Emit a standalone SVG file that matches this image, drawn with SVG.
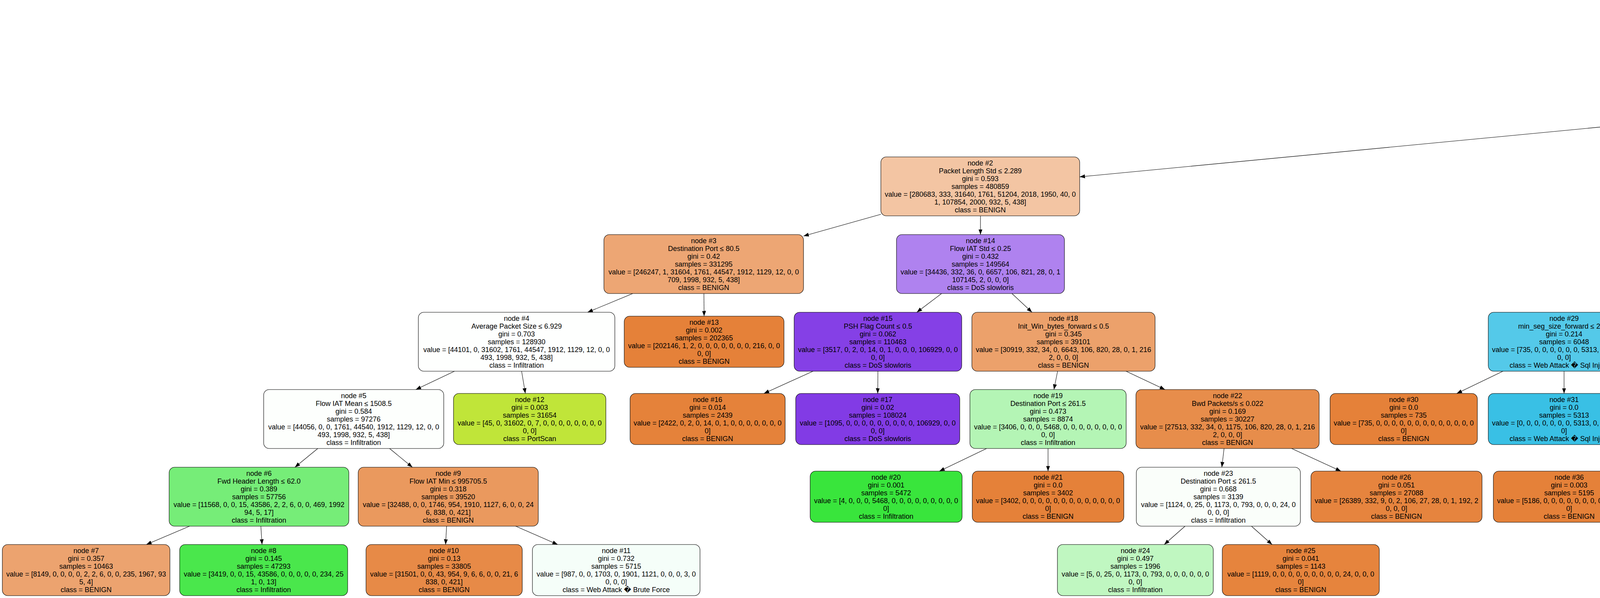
<svg xmlns="http://www.w3.org/2000/svg" width="6857" height="1532" viewBox="0 0 6857 1532">
<defs>
<style>
rect.n{stroke:#000;stroke-width:1.1}
text{font-family:'Liberation Sans','DejaVu Sans',Arial,sans-serif;font-size:18px;text-anchor:middle;fill:#000}
#edges line{stroke:#000;stroke-width:1.1;marker-end:url(#ah)}
</style>
<marker id="ah" markerUnits="userSpaceOnUse" markerWidth="15" markerHeight="11" refX="13.5" refY="5" orient="auto"><path d="M0,0 L13.5,5 L0,10 z" fill="#000"/></marker>
</defs>
<rect width="6857" height="1532" fill="#fff"/>
<g id="edges">
<line x1="5002.5" y1="156" x2="4838.8" y2="204"/>
<line x1="5323.9" y1="156" x2="5364.5" y2="204"/>
<line x1="4310" y1="305.1" x2="2764" y2="453.1"/>
<line x1="4583" y1="354" x2="4583" y2="402"/>
<line x1="5428" y1="354" x2="5428" y2="412"/>
<line x1="5657" y1="337.4" x2="5986" y2="421.4"/>
<line x1="2255" y1="549" x2="2057" y2="604.7"/>
<line x1="2510" y1="553" x2="2510" y2="601"/>
<line x1="1619.8" y1="752" x2="1504.2" y2="800"/>
<line x1="1802" y1="752" x2="1802.5" y2="810"/>
<line x1="2410.4" y1="752" x2="2347.1" y2="800"/>
<line x1="2590.6" y1="752" x2="2641.9" y2="800"/>
<line x1="4518.9" y1="553" x2="4478.1" y2="601"/>
<line x1="4699.3" y1="553" x2="4773.2" y2="601"/>
<line x1="6206" y1="553" x2="6206" y2="601"/>
<line x1="6374.8" y1="553" x2="6504.5" y2="611"/>
<line x1="1163.5" y1="951" x2="1064.5" y2="998"/>
<line x1="1335.3" y1="951" x2="1344.9" y2="1008"/>
<line x1="2081.3" y1="951" x2="1955.7" y2="1008"/>
<line x1="2247.5" y1="951" x2="2247" y2="1008"/>
<line x1="2707.4" y1="951" x2="2698.1" y2="998"/>
<line x1="2882.7" y1="951" x2="2982.3" y2="998"/>
<line x1="4258.4" y1="752" x2="4159.6" y2="800"/>
<line x1="4415.7" y1="752" x2="4417" y2="810"/>
<line x1="4888.5" y1="752" x2="4888" y2="800"/>
<line x1="5068.6" y1="752" x2="5182.4" y2="800"/>
<line x1="6206" y1="752" x2="6205.5" y2="800"/>
<line x1="6366.9" y1="752" x2="6490.5" y2="810"/>
<line x1="813.5" y1="1149" x2="755" y2="1197"/>
<line x1="997.3" y1="1149" x2="1055.7" y2="1197"/>
<line x1="2525.7" y1="1149" x2="2404.9" y2="1207"/>
<line x1="2683" y1="1149" x2="2683" y2="1207"/>
<line x1="3133.6" y1="1149" x2="3127.9" y2="1197"/>
<line x1="3306.6" y1="1149" x2="3432.7" y2="1207"/>
<line x1="3847.5" y1="951" x2="3729.3" y2="1008"/>
<line x1="4004" y1="951" x2="4004" y2="1008"/>
<line x1="4710.5" y1="951" x2="4600.5" y2="998"/>
<line x1="4890" y1="951" x2="4892" y2="998"/>
<line x1="5361.5" y1="951" x2="5360.5" y2="1008"/>
<line x1="5521.1" y1="951" x2="5641.6" y2="1008"/>
<line x1="6205.5" y1="951" x2="6205" y2="1008"/>
<line x1="6367.7" y1="951" x2="6490.2" y2="1008"/>
<line x1="485.3" y1="1348" x2="374.7" y2="1395"/>
<line x1="667.8" y1="1348" x2="670.8" y2="1395"/>
<line x1="1143.3" y1="1348" x2="1140.7" y2="1395"/>
<line x1="1320.2" y1="1348" x2="1427.7" y2="1395"/>
<line x1="3033.7" y1="1348" x2="2980.5" y2="1395"/>
<line x1="3203.7" y1="1348" x2="3256.5" y2="1395"/>
<line x1="4269.6" y1="1149" x2="4150.9" y2="1207"/>
<line x1="4427.4" y1="1149" x2="4430" y2="1207"/>
<line x1="4894.6" y1="1149" x2="4894.3" y2="1207"/>
<line x1="5069" y1="1149" x2="5202.6" y2="1207"/>
<text x="4857" y="179">True</text>
<text x="5366" y="176">False</text>
</g>
<g id="n0"><rect class="n" x="4990" y="5" width="540" height="151" rx="14" fill="#eb9c63"/><text y="26.5"><tspan x="5260">node #0</tspan><tspan x="5260" dy="20">Bwd Packet Length Std ≤ 1495.688</tspan><tspan x="5260" dy="20">gini = 0.343</tspan><tspan x="5260" dy="20">samples = 1922955</tspan><tspan x="5260" dy="20">value = [1544491, 1348, 87329, 6936, 156385, 3692, 3919, 5353</tspan><tspan x="5260" dy="20">9, 24, 107938, 4027, 1040, 13, 451]</tspan><tspan x="5260" dy="20">class = BENIGN</tspan></text></g>
<g id="n1"><rect class="n" x="4310" y="204" width="546" height="150" rx="14" fill="#e89153"/><text y="225"><tspan x="4583">node #1</tspan><tspan x="4583" dy="20">Average Packet Size ≤ 7.694</tspan><tspan x="4583" dy="20">gini = 0.224</tspan><tspan x="4583" dy="20">samples = 1756521</tspan><tspan x="4583" dy="20">value = [1542584, 1348, 32166, 2381, 51652, 3689, 3918, 5353, 0</tspan><tspan x="4583" dy="20">24, 107879, 4027, 1038, 13, 449]</tspan><tspan x="4583" dy="20">class = BENIGN</tspan></text></g>
<g id="n44"><rect class="n" x="5199" y="204" width="458" height="150" rx="14" fill="#a7f3a8"/><text y="225"><tspan x="5428">node #44</tspan><tspan x="5428" dy="20">Fwd Packet Length Max ≤ 41.0</tspan><tspan x="5428" dy="20">gini = 0.493</tspan><tspan x="5428" dy="20">samples = 166434</tspan><tspan x="5428" dy="20">value = [1907, 0, 55163, 4555, 104733, 3, 1, 0, 9, 0, 59</tspan><tspan x="5428" dy="20">0, 2, 0, 2]</tspan><tspan x="5428" dy="20">class = Infiltration</tspan></text></g>
<g id="n2"><rect class="n" x="2255" y="402" width="509" height="151" rx="14" fill="#f3c5a3"/><text y="423.5"><tspan x="2509.5">node #2</tspan><tspan x="2509.5" dy="20">Packet Length Std ≤ 2.289</tspan><tspan x="2509.5" dy="20">gini = 0.593</tspan><tspan x="2509.5" dy="20">samples = 480859</tspan><tspan x="2509.5" dy="20">value = [280683, 333, 31640, 1761, 51204, 2018, 1950, 40, 0</tspan><tspan x="2509.5" dy="20">1, 107854, 2000, 932, 5, 438]</tspan><tspan x="2509.5" dy="20">class = BENIGN</tspan></text></g>
<g id="n27"><rect class="n" x="4333" y="402" width="500" height="151" rx="14" fill="#e5823b"/><text y="423.5"><tspan x="4583">node #27</tspan><tspan x="4583" dy="20">Destination Port ≤ 21.5</tspan><tspan x="4583" dy="20">gini = 0.021</tspan><tspan x="4583" dy="20">samples = 1275662</tspan><tspan x="4583" dy="20">value = [1261901, 1015, 526, 620, 448, 1671, 1968, 5313, 0</tspan><tspan x="4583" dy="20">23, 25, 2027, 106, 8, 11]</tspan><tspan x="4583" dy="20">class = BENIGN</tspan></text></g>
<g id="n45"><rect class="n" x="5233" y="412" width="389" height="131" rx="14" fill="#c0e539"/><text y="433.5"><tspan x="5427.5">node #45</tspan><tspan x="5427.5" dy="20">gini = 0.001</tspan><tspan x="5427.5" dy="20">samples = 55201</tspan><tspan x="5427.5" dy="20">value = [0, 0, 55163, 0, 0, 0, 0, 0, 0, 0, 38, 0, 0</tspan><tspan x="5427.5" dy="20">0, 0]</tspan><tspan x="5427.5" dy="20">class = PortScan</tspan></text></g>
<g id="n46"><rect class="n" x="5986" y="402" width="440" height="151" rx="14" fill="#45e748"/><text y="423.5"><tspan x="6206">node #46</tspan><tspan x="6206" dy="20">Total Length of Bwd Packets ≤ 11605.0</tspan><tspan x="6206" dy="20">gini = 0.111</tspan><tspan x="6206" dy="20">samples = 111233</tspan><tspan x="6206" dy="20">value = [1907, 0, 0, 4555, 104733, 3, 1, 0, 9, 0, 21, 0</tspan><tspan x="6206" dy="20">2, 0, 2]</tspan><tspan x="6206" dy="20">class = Infiltration</tspan></text></g>
<g id="n3"><rect class="n" x="1546" y="601" width="511" height="151" rx="14" fill="#eda674"/><text y="622.5"><tspan x="1801.5">node #3</tspan><tspan x="1801.5" dy="20">Destination Port ≤ 80.5</tspan><tspan x="1801.5" dy="20">gini = 0.42</tspan><tspan x="1801.5" dy="20">samples = 331295</tspan><tspan x="1801.5" dy="20">value = [246247, 1, 31604, 1761, 44547, 1912, 1129, 12, 0, 0</tspan><tspan x="1801.5" dy="20">709, 1998, 932, 5, 438]</tspan><tspan x="1801.5" dy="20">class = BENIGN</tspan></text></g>
<g id="n14"><rect class="n" x="2295" y="601" width="430" height="151" rx="14" fill="#af82ef"/><text y="622.5"><tspan x="2510">node #14</tspan><tspan x="2510" dy="20">Flow IAT Std ≤ 0.25</tspan><tspan x="2510" dy="20">gini = 0.432</tspan><tspan x="2510" dy="20">samples = 149564</tspan><tspan x="2510" dy="20">value = [34436, 332, 36, 0, 6657, 106, 821, 28, 0, 1</tspan><tspan x="2510" dy="20">107145, 2, 0, 0, 0]</tspan><tspan x="2510" dy="20">class = DoS slowloris</tspan></text></g>
<g id="n28"><rect class="n" x="4214" y="601" width="400" height="151" rx="14" fill="#94ddf1"/><text y="622.5"><tspan x="4414">node #28</tspan><tspan x="4414" dy="20">Bwd Packet Length Mean ≤ 13.964</tspan><tspan x="4414" dy="20">gini = 0.431</tspan><tspan x="4414" dy="20">samples = 7742</tspan><tspan x="4414" dy="20">value = [2429, 0, 0, 0, 0, 0, 0, 5313, 0, 0, 0, 0, 0</tspan><tspan x="4414" dy="20">0, 0]</tspan><tspan x="4414" dy="20">class = Web Attack � Sql Injection</tspan></text></g>
<g id="n33"><rect class="n" x="4640" y="601" width="499" height="151" rx="14" fill="#e5823a"/><text y="622.5"><tspan x="4889.5">node #33</tspan><tspan x="4889.5" dy="20">Active Std ≤ 4527683.5</tspan><tspan x="4889.5" dy="20">gini = 0.013</tspan><tspan x="4889.5" dy="20">samples = 1267920</tspan><tspan x="4889.5" dy="20">value = [1259472, 1015, 526, 620, 448, 1671, 1968, 0, 0, 23</tspan><tspan x="4889.5" dy="20">25, 2027, 106, 8, 11]</tspan><tspan x="4889.5" dy="20">class = BENIGN</tspan></text></g>
<g id="n47"><rect class="n" x="5986" y="601" width="440" height="151" rx="14" fill="#3ee641"/><text y="622.5"><tspan x="6206">node #47</tspan><tspan x="6206" dy="20">Subflow Bwd Bytes ≤ 11580.0</tspan><tspan x="6206" dy="20">gini = 0.049</tspan><tspan x="6206" dy="20">samples = 107392</tspan><tspan x="6206" dy="20">value = [1518, 0, 0, 1135, 104713, 2, 1, 0, 0, 0, 21, 0</tspan><tspan x="6206" dy="20">1, 0, 1]</tspan><tspan x="6206" dy="20">class = Infiltration</tspan></text></g>
<g id="n52"><rect class="n" x="6451" y="611" width="400" height="131" rx="14" fill="#8be851"/><text y="632.5"><tspan x="6651">node #52</tspan><tspan x="6651" dy="20">gini = 0.197</tspan><tspan x="6651" dy="20">samples = 3841</tspan><tspan x="6651" dy="20">value = [389, 0, 0, 3420, 20, 1, 0, 0, 9, 0, 0, 0, 1</tspan><tspan x="6651" dy="20">0, 1]</tspan><tspan x="6651" dy="20">class = Bot</tspan></text></g>
<g id="n4"><rect class="n" x="1071" y="800" width="503" height="151" rx="14" fill="#fefffe"/><text y="821.5"><tspan x="1322.5">node #4</tspan><tspan x="1322.5" dy="20">Average Packet Size ≤ 6.929</tspan><tspan x="1322.5" dy="20">gini = 0.703</tspan><tspan x="1322.5" dy="20">samples = 128930</tspan><tspan x="1322.5" dy="20">value = [44101, 0, 31602, 1761, 44547, 1912, 1129, 12, 0, 0</tspan><tspan x="1322.5" dy="20">493, 1998, 932, 5, 438]</tspan><tspan x="1322.5" dy="20">class = Infiltration</tspan></text></g>
<g id="n13"><rect class="n" x="1598" y="810" width="409" height="131" rx="14" fill="#e58139"/><text y="831.5"><tspan x="1802.5">node #13</tspan><tspan x="1802.5" dy="20">gini = 0.002</tspan><tspan x="1802.5" dy="20">samples = 202365</tspan><tspan x="1802.5" dy="20">value = [202146, 1, 2, 0, 0, 0, 0, 0, 0, 0, 216, 0, 0</tspan><tspan x="1802.5" dy="20">0, 0]</tspan><tspan x="1802.5" dy="20">class = BENIGN</tspan></text></g>
<g id="n15"><rect class="n" x="2033" y="800" width="429" height="151" rx="14" fill="#8540e6"/><text y="821.5"><tspan x="2247.5">node #15</tspan><tspan x="2247.5" dy="20">PSH Flag Count ≤ 0.5</tspan><tspan x="2247.5" dy="20">gini = 0.062</tspan><tspan x="2247.5" dy="20">samples = 110463</tspan><tspan x="2247.5" dy="20">value = [3517, 0, 2, 0, 14, 0, 1, 0, 0, 0, 106929, 0, 0</tspan><tspan x="2247.5" dy="20">0, 0]</tspan><tspan x="2247.5" dy="20">class = DoS slowloris</tspan></text></g>
<g id="n18"><rect class="n" x="2488" y="800" width="469" height="151" rx="14" fill="#eca16b"/><text y="821.5"><tspan x="2722.5">node #18</tspan><tspan x="2722.5" dy="20">Init_Win_bytes_forward ≤ 0.5</tspan><tspan x="2722.5" dy="20">gini = 0.345</tspan><tspan x="2722.5" dy="20">samples = 39101</tspan><tspan x="2722.5" dy="20">value = [30919, 332, 34, 0, 6643, 106, 820, 28, 0, 1, 216</tspan><tspan x="2722.5" dy="20">2, 0, 0, 0]</tspan><tspan x="2722.5" dy="20">class = BENIGN</tspan></text></g>
<g id="n29"><rect class="n" x="3810" y="800" width="388" height="151" rx="14" fill="#54c9e9"/><text y="821.5"><tspan x="4004">node #29</tspan><tspan x="4004" dy="20">min_seg_size_forward ≤ 26.0</tspan><tspan x="4004" dy="20">gini = 0.214</tspan><tspan x="4004" dy="20">samples = 6048</tspan><tspan x="4004" dy="20">value = [735, 0, 0, 0, 0, 0, 0, 5313, 0, 0, 0, 0, 0</tspan><tspan x="4004" dy="20">0, 0]</tspan><tspan x="4004" dy="20">class = Web Attack � Sql Injection</tspan></text></g>
<g id="n32"><rect class="n" x="4224" y="810" width="389" height="131" rx="14" fill="#e58139"/><text y="831.5"><tspan x="4418.5">node #32</tspan><tspan x="4418.5" dy="20">gini = 0.0</tspan><tspan x="4418.5" dy="20">samples = 1694</tspan><tspan x="4418.5" dy="20">value = [1694, 0, 0, 0, 0, 0, 0, 0, 0, 0, 0, 0, 0, 0</tspan><tspan x="4418.5" dy="20">0]</tspan><tspan x="4418.5" dy="20">class = BENIGN</tspan></text></g>
<g id="n34"><rect class="n" x="4642" y="800" width="490" height="151" rx="14" fill="#e5823a"/><text y="821.5"><tspan x="4887">node #34</tspan><tspan x="4887" dy="20">Destination Port ≤ 32.0</tspan><tspan x="4887" dy="20">gini = 0.011</tspan><tspan x="4887" dy="20">samples = 1265493</tspan><tspan x="4887" dy="20">value = [1258297, 1015, 526, 612, 448, 1587, 811, 0, 0, 20</tspan><tspan x="4887" dy="20">25, 2027, 106, 8, 11]</tspan><tspan x="4887" dy="20">class = BENIGN</tspan></text></g>
<g id="n41"><rect class="n" x="5157" y="800" width="409" height="151" rx="14" fill="#fffdfc"/><text y="821.5"><tspan x="5361.5">node #41</tspan><tspan x="5361.5" dy="20">Bwd IAT Min ≤ 5332221.0</tspan><tspan x="5361.5" dy="20">gini = 0.537</tspan><tspan x="5361.5" dy="20">samples = 2427</tspan><tspan x="5361.5" dy="20">value = [1175, 0, 0, 8, 0, 84, 1157, 0, 0, 3, 0, 0, 0</tspan><tspan x="5361.5" dy="20">0, 0]</tspan><tspan x="5361.5" dy="20">class = BENIGN</tspan></text></g>
<g id="n48"><rect class="n" x="6002" y="800" width="407" height="151" rx="14" fill="#f9e0ce"/><text y="821.5"><tspan x="6205.5">node #48</tspan><tspan x="6205.5" dy="20">Bwd IAT Mean ≤ 1654206.125</tspan><tspan x="6205.5" dy="20">gini = 0.499</tspan><tspan x="6205.5" dy="20">samples = 2679</tspan><tspan x="6205.5" dy="20">value = [1518, 0, 0, 1135, 0, 2, 1, 0, 0, 0, 21, 0, 1</tspan><tspan x="6205.5" dy="20">0, 1]</tspan><tspan x="6205.5" dy="20">class = BENIGN</tspan></text></g>
<g id="n51"><rect class="n" x="6437" y="810" width="386" height="131" rx="14" fill="#39e53c"/><text y="831.5"><tspan x="6630">node #51</tspan><tspan x="6630" dy="20">gini = 0.0</tspan><tspan x="6630" dy="20">samples = 104713</tspan><tspan x="6630" dy="20">value = [0, 0, 0, 0, 104713, 0, 0, 0, 0, 0, 0, 0, 0</tspan><tspan x="6630" dy="20">0, 0]</tspan><tspan x="6630" dy="20">class = Infiltration</tspan></text></g>
<g id="n5"><rect class="n" x="675" y="998" width="461" height="151" rx="14" fill="#fdfffd"/><text y="1019.5"><tspan x="905.5">node #5</tspan><tspan x="905.5" dy="20">Flow IAT Mean ≤ 1508.5</tspan><tspan x="905.5" dy="20">gini = 0.584</tspan><tspan x="905.5" dy="20">samples = 97276</tspan><tspan x="905.5" dy="20">value = [44056, 0, 0, 1761, 44540, 1912, 1129, 12, 0, 0</tspan><tspan x="905.5" dy="20">493, 1998, 932, 5, 438]</tspan><tspan x="905.5" dy="20">class = Infiltration</tspan></text></g>
<g id="n12"><rect class="n" x="1161" y="1008" width="390" height="131" rx="14" fill="#c0e539"/><text y="1029.5"><tspan x="1356">node #12</tspan><tspan x="1356" dy="20">gini = 0.003</tspan><tspan x="1356" dy="20">samples = 31654</tspan><tspan x="1356" dy="20">value = [45, 0, 31602, 0, 7, 0, 0, 0, 0, 0, 0, 0, 0</tspan><tspan x="1356" dy="20">0, 0]</tspan><tspan x="1356" dy="20">class = PortScan</tspan></text></g>
<g id="n16"><rect class="n" x="1613" y="1008" width="397" height="131" rx="14" fill="#e5823a"/><text y="1029.5"><tspan x="1811.5">node #16</tspan><tspan x="1811.5" dy="20">gini = 0.014</tspan><tspan x="1811.5" dy="20">samples = 2439</tspan><tspan x="1811.5" dy="20">value = [2422, 0, 2, 0, 14, 0, 1, 0, 0, 0, 0, 0, 0, 0</tspan><tspan x="1811.5" dy="20">0]</tspan><tspan x="1811.5" dy="20">class = BENIGN</tspan></text></g>
<g id="n17"><rect class="n" x="2037" y="1008" width="420" height="131" rx="14" fill="#823be5"/><text y="1029.5"><tspan x="2247">node #17</tspan><tspan x="2247" dy="20">gini = 0.02</tspan><tspan x="2247" dy="20">samples = 108024</tspan><tspan x="2247" dy="20">value = [1095, 0, 0, 0, 0, 0, 0, 0, 0, 0, 106929, 0, 0</tspan><tspan x="2247" dy="20">0, 0]</tspan><tspan x="2247" dy="20">class = DoS slowloris</tspan></text></g>
<g id="n19"><rect class="n" x="2483" y="998" width="400" height="151" rx="14" fill="#b4f5b5"/><text y="1019.5"><tspan x="2683">node #19</tspan><tspan x="2683" dy="20">Destination Port ≤ 261.5</tspan><tspan x="2683" dy="20">gini = 0.473</tspan><tspan x="2683" dy="20">samples = 8874</tspan><tspan x="2683" dy="20">value = [3406, 0, 0, 0, 5468, 0, 0, 0, 0, 0, 0, 0, 0</tspan><tspan x="2683" dy="20">0, 0]</tspan><tspan x="2683" dy="20">class = Infiltration</tspan></text></g>
<g id="n22"><rect class="n" x="2908" y="998" width="469" height="151" rx="14" fill="#e78d4b"/><text y="1019.5"><tspan x="3142.5">node #22</tspan><tspan x="3142.5" dy="20">Bwd Packets/s ≤ 0.022</tspan><tspan x="3142.5" dy="20">gini = 0.169</tspan><tspan x="3142.5" dy="20">samples = 30227</tspan><tspan x="3142.5" dy="20">value = [27513, 332, 34, 0, 1175, 106, 820, 28, 0, 1, 216</tspan><tspan x="3142.5" dy="20">2, 0, 0, 0]</tspan><tspan x="3142.5" dy="20">class = BENIGN</tspan></text></g>
<g id="n30"><rect class="n" x="3405" y="1008" width="377" height="131" rx="14" fill="#e58139"/><text y="1029.5"><tspan x="3593.5">node #30</tspan><tspan x="3593.5" dy="20">gini = 0.0</tspan><tspan x="3593.5" dy="20">samples = 735</tspan><tspan x="3593.5" dy="20">value = [735, 0, 0, 0, 0, 0, 0, 0, 0, 0, 0, 0, 0, 0</tspan><tspan x="3593.5" dy="20">0]</tspan><tspan x="3593.5" dy="20">class = BENIGN</tspan></text></g>
<g id="n31"><rect class="n" x="3810" y="1008" width="388" height="131" rx="14" fill="#39c0e5"/><text y="1029.5"><tspan x="4004">node #31</tspan><tspan x="4004" dy="20">gini = 0.0</tspan><tspan x="4004" dy="20">samples = 5313</tspan><tspan x="4004" dy="20">value = [0, 0, 0, 0, 0, 0, 0, 5313, 0, 0, 0, 0, 0, 0</tspan><tspan x="4004" dy="20">0]</tspan><tspan x="4004" dy="20">class = Web Attack � Sql Injection</tspan></text></g>
<g id="n35"><rect class="n" x="4224" y="998" width="400" height="151" rx="14" fill="#efb286"/><text y="1019.5"><tspan x="4424">node #35</tspan><tspan x="4424" dy="20">Fwd Packet Length Max ≤ 552.0</tspan><tspan x="4424" dy="20">gini = 0.404</tspan><tspan x="4424" dy="20">samples = 7213</tspan><tspan x="4424" dy="20">value = [5186, 0, 0, 0, 0, 0, 0, 0, 0, 0, 0, 2027, 0</tspan><tspan x="4424" dy="20">0, 0]</tspan><tspan x="4424" dy="20">class = BENIGN</tspan></text></g>
<g id="n38"><rect class="n" x="4651" y="998" width="488" height="151" rx="14" fill="#e5823a"/><text y="1019.5"><tspan x="4895">node #38</tspan><tspan x="4895" dy="20">Bwd IAT Std ≤ 71497312.0</tspan><tspan x="4895" dy="20">gini = 0.008</tspan><tspan x="4895" dy="20">samples = 1258280</tspan><tspan x="4895" dy="20">value = [1253111, 1015, 526, 612, 448, 1587, 811, 0, 0, 20</tspan><tspan x="4895" dy="20">25, 0, 106, 8, 11]</tspan><tspan x="4895" dy="20">class = BENIGN</tspan></text></g>
<g id="n42"><rect class="n" x="5166" y="1008" width="389" height="131" rx="14" fill="#e5823a"/><text y="1029.5"><tspan x="5360.5">node #42</tspan><tspan x="5360.5" dy="20">gini = 0.013</tspan><tspan x="5360.5" dy="20">samples = 1183</tspan><tspan x="5360.5" dy="20">value = [1175, 0, 0, 5, 0, 0, 0, 0, 0, 3, 0, 0, 0, 0</tspan><tspan x="5360.5" dy="20">0]</tspan><tspan x="5360.5" dy="20">class = BENIGN</tspan></text></g>
<g id="n43"><rect class="n" x="5580" y="1008" width="400" height="131" rx="14" fill="#48e7c9"/><text y="1029.5"><tspan x="5780">node #43</tspan><tspan x="5780" dy="20">gini = 0.13</tspan><tspan x="5780" dy="20">samples = 1244</tspan><tspan x="5780" dy="20">value = [0, 0, 0, 3, 0, 84, 1157, 0, 0, 0, 0, 0, 0, 0</tspan><tspan x="5780" dy="20">0]</tspan><tspan x="5780" dy="20">class = Web Attack � XSS</tspan></text></g>
<g id="n49"><rect class="n" x="6005" y="1008" width="400" height="131" rx="14" fill="#e5833c"/><text y="1029.5"><tspan x="6205">node #49</tspan><tspan x="6205" dy="20">gini = 0.031</tspan><tspan x="6205" dy="20">samples = 1504</tspan><tspan x="6205" dy="20">value = [1480, 0, 0, 0, 0, 0, 1, 0, 0, 0, 21, 0, 1, 0</tspan><tspan x="6205" dy="20">1]</tspan><tspan x="6205" dy="20">class = BENIGN</tspan></text></g>
<g id="n50"><rect class="n" x="6431" y="1008" width="400" height="131" rx="14" fill="#80e640"/><text y="1029.5"><tspan x="6631">node #50</tspan><tspan x="6631" dy="20">gini = 0.066</tspan><tspan x="6631" dy="20">samples = 1175</tspan><tspan x="6631" dy="20">value = [38, 0, 0, 1135, 0, 2, 0, 0, 0, 0, 0, 0, 0, 0</tspan><tspan x="6631" dy="20">0]</tspan><tspan x="6631" dy="20">class = Bot</tspan></text></g>
<g id="n6"><rect class="n" x="433" y="1197" width="460" height="151" rx="14" fill="#76ed78"/><text y="1218.5"><tspan x="663">node #6</tspan><tspan x="663" dy="20">Fwd Header Length ≤ 62.0</tspan><tspan x="663" dy="20">gini = 0.389</tspan><tspan x="663" dy="20">samples = 57756</tspan><tspan x="663" dy="20">value = [11568, 0, 0, 15, 43586, 2, 2, 6, 0, 0, 469, 1992</tspan><tspan x="663" dy="20">94, 5, 17]</tspan><tspan x="663" dy="20">class = Infiltration</tspan></text></g>
<g id="n9"><rect class="n" x="917" y="1197" width="461" height="151" rx="14" fill="#ea995e"/><text y="1218.5"><tspan x="1147.5">node #9</tspan><tspan x="1147.5" dy="20">Flow IAT Min ≤ 995705.5</tspan><tspan x="1147.5" dy="20">gini = 0.318</tspan><tspan x="1147.5" dy="20">samples = 39520</tspan><tspan x="1147.5" dy="20">value = [32488, 0, 0, 1746, 954, 1910, 1127, 6, 0, 0, 24</tspan><tspan x="1147.5" dy="20">6, 838, 0, 421]</tspan><tspan x="1147.5" dy="20">class = BENIGN</tspan></text></g>
<g id="n20"><rect class="n" x="2074" y="1207" width="389" height="131" rx="14" fill="#39e53c"/><text y="1228.5"><tspan x="2268.5">node #20</tspan><tspan x="2268.5" dy="20">gini = 0.001</tspan><tspan x="2268.5" dy="20">samples = 5472</tspan><tspan x="2268.5" dy="20">value = [4, 0, 0, 0, 5468, 0, 0, 0, 0, 0, 0, 0, 0, 0</tspan><tspan x="2268.5" dy="20">0]</tspan><tspan x="2268.5" dy="20">class = Infiltration</tspan></text></g>
<g id="n21"><rect class="n" x="2489" y="1207" width="388" height="131" rx="14" fill="#e58139"/><text y="1228.5"><tspan x="2683">node #21</tspan><tspan x="2683" dy="20">gini = 0.0</tspan><tspan x="2683" dy="20">samples = 3402</tspan><tspan x="2683" dy="20">value = [3402, 0, 0, 0, 0, 0, 0, 0, 0, 0, 0, 0, 0, 0</tspan><tspan x="2683" dy="20">0]</tspan><tspan x="2683" dy="20">class = BENIGN</tspan></text></g>
<g id="n23"><rect class="n" x="2909" y="1197" width="420" height="151" rx="14" fill="#fafefa"/><text y="1218.5"><tspan x="3119">node #23</tspan><tspan x="3119" dy="20">Destination Port ≤ 261.5</tspan><tspan x="3119" dy="20">gini = 0.668</tspan><tspan x="3119" dy="20">samples = 3139</tspan><tspan x="3119" dy="20">value = [1124, 0, 25, 0, 1173, 0, 793, 0, 0, 0, 24, 0</tspan><tspan x="3119" dy="20">0, 0, 0]</tspan><tspan x="3119" dy="20">class = Infiltration</tspan></text></g>
<g id="n26"><rect class="n" x="3356" y="1207" width="438" height="131" rx="14" fill="#e6843e"/><text y="1228.5"><tspan x="3575">node #26</tspan><tspan x="3575" dy="20">gini = 0.051</tspan><tspan x="3575" dy="20">samples = 27088</tspan><tspan x="3575" dy="20">value = [26389, 332, 9, 0, 2, 106, 27, 28, 0, 1, 192, 2</tspan><tspan x="3575" dy="20">0, 0, 0]</tspan><tspan x="3575" dy="20">class = BENIGN</tspan></text></g>
<g id="n36"><rect class="n" x="3823" y="1207" width="388" height="131" rx="14" fill="#e58139"/><text y="1228.5"><tspan x="4017">node #36</tspan><tspan x="4017" dy="20">gini = 0.003</tspan><tspan x="4017" dy="20">samples = 5195</tspan><tspan x="4017" dy="20">value = [5186, 0, 0, 0, 0, 0, 0, 0, 0, 0, 0, 9, 0, 0</tspan><tspan x="4017" dy="20">0]</tspan><tspan x="4017" dy="20">class = BENIGN</tspan></text></g>
<g id="n37"><rect class="n" x="4239" y="1207" width="388" height="131" rx="14" fill="#c539e5"/><text y="1228.5"><tspan x="4433">node #37</tspan><tspan x="4433" dy="20">gini = 0.0</tspan><tspan x="4433" dy="20">samples = 2018</tspan><tspan x="4433" dy="20">value = [0, 0, 0, 0, 0, 0, 0, 0, 0, 0, 0, 2018, 0, 0</tspan><tspan x="4433" dy="20">0]</tspan><tspan x="4433" dy="20">class = DoS Slowhttptest</tspan></text></g>
<g id="n39"><rect class="n" x="4654" y="1207" width="480" height="131" rx="14" fill="#e5813a"/><text y="1228.5"><tspan x="4894">node #39</tspan><tspan x="4894" dy="20">gini = 0.007</tspan><tspan x="4894" dy="20">samples = 1257479</tspan><tspan x="4894" dy="20">value = [1252980, 1015, 526, 612, 448, 930, 798, 0, 0, 20</tspan><tspan x="4894" dy="20">25, 0, 106, 8, 11]</tspan><tspan x="4894" dy="20">class = BENIGN</tspan></text></g>
<g id="n40"><rect class="n" x="5159" y="1207" width="389" height="131" rx="14" fill="#64eb9c"/><text y="1228.5"><tspan x="5353.5">node #40</tspan><tspan x="5353.5" dy="20">gini = 0.3</tspan><tspan x="5353.5" dy="20">samples = 801</tspan><tspan x="5353.5" dy="20">value = [131, 0, 0, 0, 0, 657, 13, 0, 0, 0, 0, 0, 0</tspan><tspan x="5353.5" dy="20">0, 0]</tspan><tspan x="5353.5" dy="20">class = Web Attack � Brute Force</tspan></text></g>
<g id="n7"><rect class="n" x="6" y="1395" width="429" height="131" rx="14" fill="#eca36f"/><text y="1416.5"><tspan x="220.5">node #7</tspan><tspan x="220.5" dy="20">gini = 0.357</tspan><tspan x="220.5" dy="20">samples = 10463</tspan><tspan x="220.5" dy="20">value = [8149, 0, 0, 0, 0, 2, 2, 6, 0, 0, 235, 1967, 93</tspan><tspan x="220.5" dy="20">5, 4]</tspan><tspan x="220.5" dy="20">class = BENIGN</tspan></text></g>
<g id="n8"><rect class="n" x="460" y="1395" width="430" height="131" rx="14" fill="#4ae74c"/><text y="1416.5"><tspan x="675">node #8</tspan><tspan x="675" dy="20">gini = 0.145</tspan><tspan x="675" dy="20">samples = 47293</tspan><tspan x="675" dy="20">value = [3419, 0, 0, 15, 43586, 0, 0, 0, 0, 0, 234, 25</tspan><tspan x="675" dy="20">1, 0, 13]</tspan><tspan x="675" dy="20">class = Infiltration</tspan></text></g>
<g id="n10"><rect class="n" x="937" y="1395" width="400" height="131" rx="14" fill="#e78a47"/><text y="1416.5"><tspan x="1137">node #10</tspan><tspan x="1137" dy="20">gini = 0.13</tspan><tspan x="1137" dy="20">samples = 33805</tspan><tspan x="1137" dy="20">value = [31501, 0, 0, 43, 954, 9, 6, 6, 0, 0, 21, 6</tspan><tspan x="1137" dy="20">838, 0, 421]</tspan><tspan x="1137" dy="20">class = BENIGN</tspan></text></g>
<g id="n11"><rect class="n" x="1363" y="1395" width="429" height="131" rx="14" fill="#f5fef9"/><text y="1416.5"><tspan x="1577.5">node #11</tspan><tspan x="1577.5" dy="20">gini = 0.732</tspan><tspan x="1577.5" dy="20">samples = 5715</tspan><tspan x="1577.5" dy="20">value = [987, 0, 0, 1703, 0, 1901, 1121, 0, 0, 0, 3, 0</tspan><tspan x="1577.5" dy="20">0, 0, 0]</tspan><tspan x="1577.5" dy="20">class = Web Attack � Brute Force</tspan></text></g>
<g id="n24"><rect class="n" x="2707" y="1395" width="399" height="131" rx="14" fill="#c0f7c1"/><text y="1416.5"><tspan x="2906.5">node #24</tspan><tspan x="2906.5" dy="20">gini = 0.497</tspan><tspan x="2906.5" dy="20">samples = 1996</tspan><tspan x="2906.5" dy="20">value = [5, 0, 25, 0, 1173, 0, 793, 0, 0, 0, 0, 0, 0</tspan><tspan x="2906.5" dy="20">0, 0]</tspan><tspan x="2906.5" dy="20">class = Infiltration</tspan></text></g>
<g id="n25"><rect class="n" x="3129" y="1395" width="402" height="131" rx="14" fill="#e6843d"/><text y="1416.5"><tspan x="3330">node #25</tspan><tspan x="3330" dy="20">gini = 0.041</tspan><tspan x="3330" dy="20">samples = 1143</tspan><tspan x="3330" dy="20">value = [1119, 0, 0, 0, 0, 0, 0, 0, 0, 0, 24, 0, 0, 0</tspan><tspan x="3330" dy="20">0]</tspan><tspan x="3330" dy="20">class = BENIGN</tspan></text></g>
</svg>
